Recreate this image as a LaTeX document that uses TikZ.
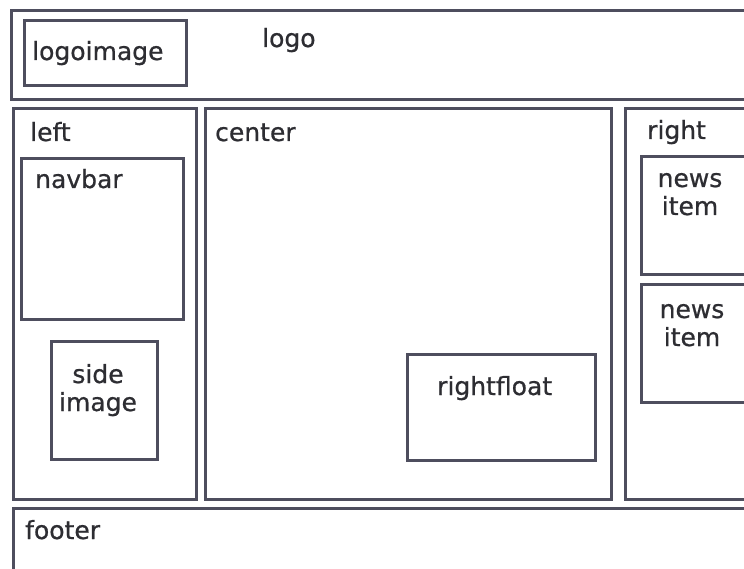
\documentclass[tikz,border=0pt]{standalone}
\usepackage{fontspec}
\setmainfont{DejaVu Sans}
\newfontfamily\lblfont{DejaVu Sans}[FakeBold=0.7]
\definecolor{linecol}{RGB}{78,78,94}
\definecolor{txtcol}{RGB}{45,45,50}
\tikzset{
  box/.style={draw=linecol, line width=2.6pt, inner sep=0pt, anchor=north west},
  lbl/.style={text=txtcol, inner sep=0pt, anchor=base west, font=\lblfont\fontsize{25}{28}\selectfont},
  clbl/.style={text=txtcol, inner sep=0pt, anchor=base, font=\lblfont\fontsize{25}{28}\selectfont}
}
\newcommand{\mybox}[5]{%
  \node[box, minimum width=#4pt-#2pt, minimum height=#5pt-#3pt] (#1) at (#2,#3) {};}
\begin{document}
\begin{tikzpicture}[x=1pt,y=-1pt]
\useasboundingbox (0,0) rectangle (744,569);
\clip (0,0) rectangle (744,569);
\fill[white] (0,0) rectangle (744,569);
% outer boxes
\mybox{logo}{10}{9}{770}{98}
\mybox{logoimage}{23}{19}{185}{84}
\mybox{left}{12}{107}{195}{498}
\mybox{center}{204}{107}{610}{498}
\mybox{right}{624}{107}{770}{498}
\mybox{navbar}{20}{157}{182}{318}
\mybox{sideimage}{50}{340}{156}{458}
\mybox{newsA}{640}{155}{770}{273}
\mybox{newsB}{640}{283}{770}{401}
\mybox{rightfloat}{406}{353}{594}{459}
\mybox{footer}{12}{507}{770}{600}
% labels
\node[lbl] (tlogoimage) at (32,60) {logoimage};
\node[lbl] (tlogo) at (262,47) {logo};
\node[lbl] (tleft) at (30,141) {left};
\node[lbl] (tcenter) at (215,141) {center};
\node[lbl] (tright) at (647,139) {right};
\node[lbl] (tnavbar) at (35,188) {navbar};
\node[clbl] (tside) at (98,383) {side};
\node[clbl] (timage) at (98,411) {image};
\node[clbl] (tnewsA) at (690,187) {news};
\node[clbl] (titemA) at (690,215) {item};
\node[clbl] (tnewsB) at (692,318) {news};
\node[clbl] (titemB) at (692,346) {item};
\node[lbl] (trightfloat) at (437,395) {rightfloat};
\node[lbl] (tfooter) at (25,539) {footer};
\end{tikzpicture}
\end{document}
